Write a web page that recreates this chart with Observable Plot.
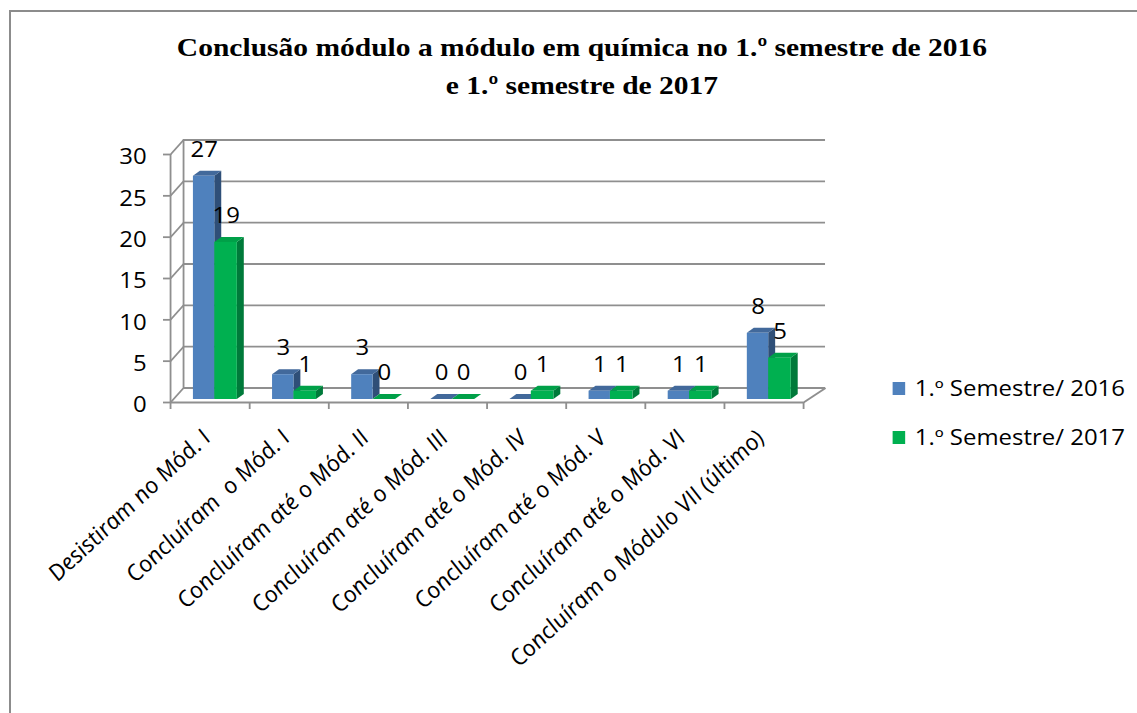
<!DOCTYPE html>
<html>
<head>
<meta charset="utf-8">
<script src="https://cdn.jsdelivr.net/npm/d3@7"></script>
<script src="https://cdn.jsdelivr.net/npm/@observablehq/plot@0.6"></script>
<style>
  html, body { margin: 0; padding: 0; background: #fff; overflow: hidden; }
  #frame { position: absolute; left: 9px; top: 10px; width: 1400px; height: 900px; border-left: 2px solid #8c8c8c; border-top: 2px solid #8c8c8c; }
  #stage { position: absolute; left: 0; top: 0; width: 997px; height: 713px; transform: scaleX(1.14); transform-origin: 0 0; }
  #chart { position: absolute; left: 0; top: 0; }
  #chart svg text { white-space: pre; }
  #title { position: absolute; left: 11px; width: 999px; top: 29px; text-align: center; font-family: "Liberation Serif", serif; font-weight: bold; font-size: 25.9px; line-height: 38px; color: #000; white-space: nowrap; }
  .legend { position: absolute; left: 783px; top: 0; font-family: "Open Sans", sans-serif; font-size: 21px; color: #000; white-space: nowrap; }
  .legend .item { position: absolute; left: 0; height: 26px; line-height: 26px; }
  .legend .sw { display: inline-block; width: 11.4px; height: 13px; vertical-align: middle; margin-right: 8px; position: relative; top: -2px; }
</style>
</head>
<body>
<div id="frame"></div>
<div id="stage">
  <div id="chart"></div>
  <div id="title"></div>
  <div class="legend" id="legend"></div>
</div>
<script>
// ---- data ----
const titleLines = ["Conclusão módulo a módulo em química no 1.º semestre de 2016", "e 1.º semestre de 2017"];
const categories = [
  "Desistiram no Mód. I",
  "Concluíram  o Mód. I",
  "Concluíram até o Mód. II",
  "Concluíram até o Mód. III",
  "Concluíram até o Mód. IV",
  "Concluíram até o Mód. V",
  "Concluíram até o Mód. VI",
  "Concluíram o Módulo VII (último)"
];
const seriesNames = ["1.º Semestre/ 2016", "1.º Semestre/ 2017"];
const values2016 = [27, 3, 3, 0, 0, 1, 1, 8];
const values2017 = [19, 1, 0, 0, 1, 1, 1, 5];
const yTicks = [0, 5, 10, 15, 20, 25, 30];

// ---- styling ----
const frontColors = ["#4f81bd", "#00b050"];
const topColors = ["#42699b", "#00a048"];
const sideColors = ["#2f4f78", "#007a3a"];
const gridColor = "#8f8f8f";

// ---- geometry (design coords, page is stretched horizontally by 1.14) ----
const W = 997, H = 713;
const xLeft = 149.1, xRight = 704.4, yTop = 154, yBottom = 402;
const nCat = categories.length;
const ux = nCat / (xRight - xLeft);   // data units per px (x)
const uy = 30 / (yBottom - yTop);     // data units per px (y)
const backL = 11.4 * ux, backR = 19.3 * ux, backY = 14.5 * uy;
const depthX = 6.1 * ux, depthY = 5 * uy;
const barLift = -3;
const slots = [[0.29, 0.56], [0.56, 0.845]];

const seriesValues = [values2016, values2017];
const bars = [];
seriesValues.forEach((vals, s) => {
  vals.forEach((v, i) => {
    bars.push({ s, i, id: s + "-" + i, v, x1: i + slots[s][0], x2: i + slots[s][1] });
  });
});
const sidePts = bars.flatMap(b => [
  { s: b.s, id: b.id, x: b.x2, y1: 0, y2: b.v },
  { s: b.s, id: b.id, x: b.x2 + depthX, y1: depthY, y2: b.v + depthY }
]);
const topPts = bars.flatMap(b => [
  { s: b.s, id: b.id, x: b.x1, y1: b.v, y2: b.v },
  { s: b.s, id: b.id, x: b.x1 + depthX, y1: b.v, y2: b.v + depthY },
  { s: b.s, id: b.id, x: b.x2, y1: b.v, y2: b.v + depthY },
  { s: b.s, id: b.id, x: b.x2 + depthX, y1: b.v + depthY, y2: b.v + depthY }
]);

const barMarks = [];
[0, 1].forEach(s => {
  barMarks.push(
    Plot.areaY(sidePts.filter(d => d.s === s), { x: "x", y1: "y1", y2: "y2", z: "id", fill: sideColors[s], dy: barLift, curve: "linear" }),
    Plot.areaY(topPts.filter(d => d.s === s), { x: "x", y1: "y1", y2: "y2", z: "id", fill: topColors[s], dy: barLift, curve: "linear" }),
    Plot.rect(bars.filter(d => d.s === s), { x1: "x1", x2: "x2", y1: 0, y2: "v", fill: frontColors[s], dy: barLift })
  );
});

const chart = Plot.plot({
  width: W,
  height: H,
  marginLeft: xLeft,
  marginRight: W - xRight,
  marginTop: yTop,
  marginBottom: H - yBottom,
  x: { domain: [0, nCat], axis: null },
  y: { domain: [0, 30], axis: null },
  style: { background: "transparent", overflow: "visible", fontFamily: "'Open Sans', sans-serif", fontSize: "21px", color: "#000" },
  marks: [
    // back wall gridlines
    Plot.ruleY(yTicks, { y: d => d + backY, x1: backL, x2: nCat + backR, stroke: gridColor, strokeWidth: 1.8 }),
    // back wall left edge
    Plot.ruleX([backL], { y1: backY, y2: 30 + backY, stroke: gridColor, strokeWidth: 1.6 }),
    // left wall diagonals
    Plot.link(yTicks, { x1: 0, y1: d => d, x2: backL, y2: d => d + backY, stroke: gridColor, strokeWidth: 1.6 }),
    // floor right diagonal
    Plot.link([0], { x1: nCat, y1: 0, x2: nCat + backR, y2: backY, stroke: gridColor, strokeWidth: 1.6 }),
    // front y axis
    Plot.ruleX([0], { y1: 0, y2: 30, stroke: gridColor, strokeWidth: 1.6 }),
    Plot.ruleY(yTicks, { x1: 0, x2: -6.1 * ux, stroke: gridColor, strokeWidth: 1.8 }),
    // front x axis
    Plot.ruleY([0], { x1: 0, x2: nCat, stroke: gridColor, strokeWidth: 2 }),
    Plot.ruleX(d3.range(nCat + 1), { y1: 0, y2: -7 * uy, stroke: gridColor, strokeWidth: 1.6 }),
    ...barMarks,
    // value labels
    Plot.text(bars, { x: d => (d.x1 + d.x2) / 2, y: "v", text: d => String(d.v), dy: barLift - 26, fontSize: 21, fill: "#000" }),
    // y tick labels
    Plot.text(yTicks, { x: 0, y: d => d, text: d => String(d), textAnchor: "end", dx: -21, dy: 3, fontSize: 21, fill: "#000" }),
    // category labels
    Plot.text(categories, { x: (d, i) => i + 0.5, y: 0, text: d => d, rotate: -46.5, textAnchor: "end", dx: -3, dy: 32, fontSize: 21.6, fontStyle: "italic", fill: "#000" })
  ]
});
document.getElementById("chart").appendChild(chart);

document.getElementById("title").innerHTML = titleLines.map(t => `<div>${t}</div>`).join("");

const legend = document.getElementById("legend");
const legendTops = [375, 424];
seriesNames.forEach((name, s) => {
  const item = document.createElement("div");
  item.className = "item";
  item.style.top = legendTops[s] + "px";
  item.innerHTML = `<span class="sw" style="background:${frontColors[s]}"></span>${name}`;
  legend.appendChild(item);
});
</script>
</body>
</html>
